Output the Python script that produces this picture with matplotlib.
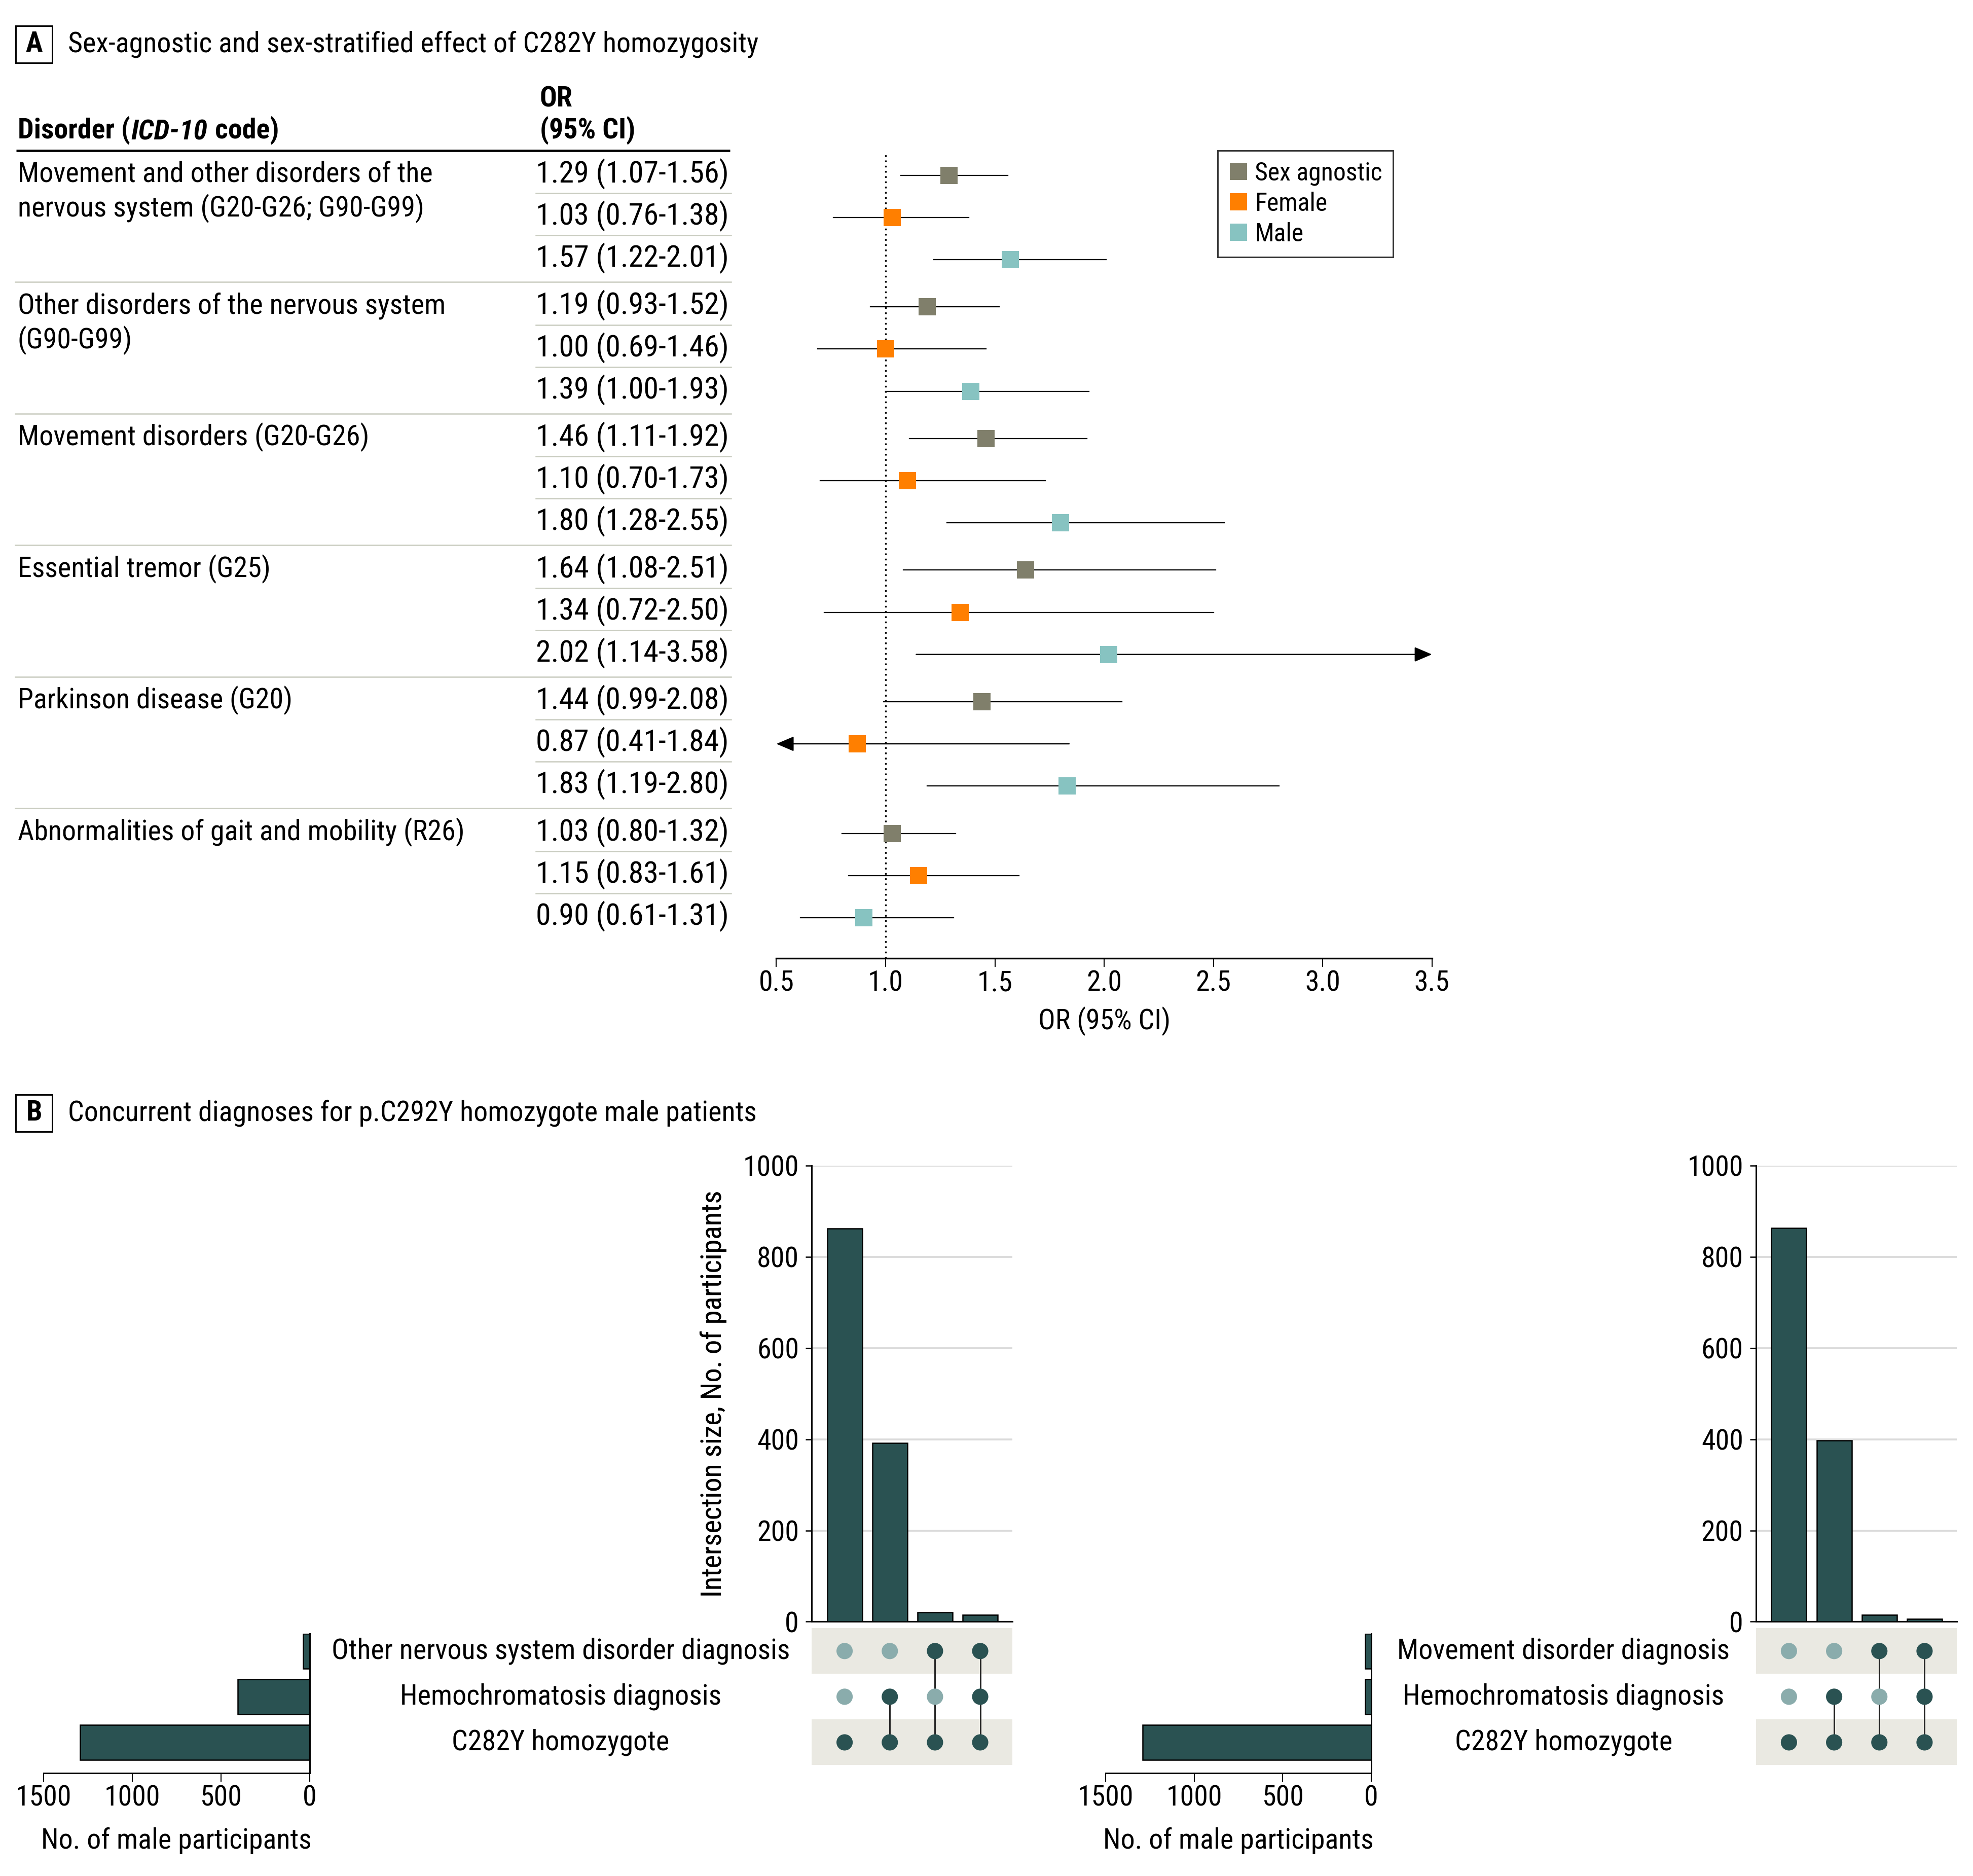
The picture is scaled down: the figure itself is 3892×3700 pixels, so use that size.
import numpy as np
import matplotlib
matplotlib.use('Agg')
import matplotlib.pyplot as plt
from matplotlib import font_manager
from matplotlib.patches import Rectangle

# ---------------- data ----------------
disorders = ['Movement and other disorders of the\nnervous system (G20-G26; G90-G99)',
             'Other disorders of the nervous system\n(G90-G99)',
             'Movement disorders (G20-G26)',
             'Essential tremor (G25)',
             'Parkinson disease (G20)',
             'Abnormalities of gait and mobility (R26)']
groups = ['Sex agnostic', 'Female', 'Male']

or_agn = [1.29, 1.19, 1.46, 1.64, 1.44, 1.03]
lo_agn = [1.07, 0.93, 1.11, 1.08, 0.99, 0.80]
hi_agn = [1.56, 1.52, 1.92, 2.51, 2.08, 1.32]
or_fem = [1.03, 1.00, 1.10, 1.34, 0.87, 1.15]
lo_fem = [0.76, 0.69, 0.70, 0.72, 0.41, 0.83]
hi_fem = [1.38, 1.46, 1.73, 2.50, 1.84, 1.61]
or_male = [1.57, 1.39, 1.80, 2.02, 1.83, 0.90]
lo_male = [1.22, 1.00, 1.28, 1.14, 1.19, 0.61]
hi_male = [2.01, 1.93, 2.55, 3.58, 2.80, 1.31]

sets_left = ['Other nervous system disorder diagnosis', 'Hemochromatosis diagnosis', 'C282Y homozygote']
setsize_left = [37, 406, 1292]
inter_left = [862, 392, 21, 15]
sets_right = ['Movement disorder diagnosis', 'Hemochromatosis diagnosis', 'C282Y homozygote']
setsize_right = [33, 33, 1290]
inter_right = [863, 397, 15, 6]
# rows = sets (top to bottom), columns = intersections
members = [[0, 0, 1, 1],
           [0, 1, 0, 1],
           [1, 1, 1, 1]]

# ---------------- style ----------------
names = {f.name for f in font_manager.fontManager.ttflist}
fam = 'DejaVu Sans'
for cand in ['Liberation Sans Narrow', 'Roboto Condensed', 'Roboto', 'Liberation Sans']:
    if cand in names:
        fam = cand
        break
plt.rcParams['font.family'] = [fam, 'DejaVu Sans']

c_agn, c_fem, c_male = '#807f6b', '#ff7f00', '#87c3c1'
dark, light, band = '#2a5252', '#8aacac', '#eae9e2'
sep_col = '#c9ccc0'

# layout grid in reference pixels (1568 x 1491 view)
W, H = 1568, 1491


def fx(x):
    return x / W


def fy(y):
    return 1 - y / H


def box(x0, y0, x1, y1):
    return [fx(x0), fy(y1), fx(x1) - fx(x0), fy(y0) - fy(y1)]


fig = plt.figure(figsize=(3892 / 300, 3700 / 300), dpi=300)
renderer = fig.canvas.get_renderer()


def fit_size(text, target_px):
    # font size that makes `text` about target_px wide in the output
    t = fig.text(0, 0, text, fontsize=10)
    w = t.get_window_extent(renderer=renderer).width
    t.remove()
    return 10 * target_px / w


FS = fit_size('Sex-agnostic and sex-stratified effect of C282Y homozygosity', 1362)
FS_OR = fit_size('1.29 (1.07-1.56)', 380)
FS_LEG = fit_size('Sex agnostic', 252)
plt.rcParams['font.size'] = FS

bg = fig.add_axes([0, 0, 1, 1])
bg.set_xlim(0, W)
bg.set_ylim(H, 0)
bg.axis('off')


def panel_tag(letter, y, title):
    bg.add_patch(Rectangle((12.3, y - 14.7), 29.3, 29.5, fill=False, lw=0.7, ec='black'))
    bg.text(27, y, letter, ha='center', va='center', fontweight='bold')
    bg.text(54, y, title, ha='left', va='center')


# ---------------- panel A ----------------
panel_tag('A', 35.2, 'Sex-agnostic and sex-stratified effect of C282Y homozygosity')

bg.text(429, 78.6, 'OR', fontweight='bold', va='center')
bg.text(429, 104, '(95% CI)', fontweight='bold', va='center')
t1 = bg.text(14, 104, 'Disorder (', fontweight='bold', va='center')
t2 = bg.annotate('ICD-10', xy=(1, 0), xycoords=t1, va='bottom', fontweight='bold',
                 fontstyle='italic', xytext=(0.5, 0), textcoords='offset points')
bg.annotate('code)', xy=(1, 0), xycoords=t2, va='bottom', fontweight='bold',
            xytext=(FS * 0.25, 0), textcoords='offset points')
bg.plot([13, 580], [119.5, 119.5], color='black', lw=1.1, solid_capstyle='butt')

ROW0, STEP, PERIOD = 138.3, 33.5, 104.6


def row_y(g, k):
    return ROW0 + g * PERIOD + k * STEP


series = [(groups[0], or_agn, lo_agn, hi_agn, c_agn),
          (groups[1], or_fem, lo_fem, hi_fem, c_fem),
          (groups[2], or_male, lo_male, hi_male, c_male)]

for g, name in enumerate(disorders):
    for i, line in enumerate(name.split('\n')):
        bg.text(14, row_y(g, 0) + i * 27.6, line, va='center')
    for k in range(3):
        est, lo, hi = series[k][1][g], series[k][2][g], series[k][3][g]
        bg.text(426, row_y(g, k), f'{est:.2f} ({lo:.2f}-{hi:.2f})', va='center', fontsize=FS_OR)
        if k < 2:
            ys = row_y(g, k) + STEP / 2 - 1.5
            bg.plot([426, 581], [ys, ys], color=sep_col, lw=0.6)
    if g < len(disorders) - 1:
        ys = row_y(g, 2) + (PERIOD - 2 * STEP) / 2
        bg.plot([12, 581], [ys, ys], color=sep_col, lw=0.6)

fa = fig.add_axes(box(617, 119.5, 1138, 761.5))
fa.set_xlim(0.5, 3.5)
fa.set_ylim(761.5, 119.5)
for s in ['left', 'top', 'right']:
    fa.spines[s].set_visible(False)
fa.spines['bottom'].set_linewidth(0.8)
fa.set_yticks([])
ticks = np.arange(0.5, 3.51, 0.5)
fa.set_xticks(ticks)
fa.set_xticklabels([f'{t:.1f}' for t in ticks])
fa.tick_params(axis='x', length=4, width=0.5, pad=1.5)
fa.set_xlabel('OR (95% CI)')
fa.xaxis.label.set_va('center')
fa.xaxis.set_label_coords(0.5, -(811.8 - 761.5) / (761.5 - 119.5))
fa.axvline(1.0, ymin=0, ymax=(761.5 - 122.5) / (761.5 - 119.5), color='black',
           lw=0.8, ls=(0, (1, 2.1)), zorder=1)

arrow = dict(arrowstyle='-|>,head_length=0.4,head_width=0.17', color='black', lw=0.55,
             shrinkA=0, shrinkB=0, mutation_scale=18)
for k, (name, est, lo, hi, col) in enumerate(series):
    ys = [row_y(g, k) + 1 for g in range(len(disorders))]
    for y, l, h in zip(ys, lo, hi):
        if l < 0.5:
            fa.annotate('', xy=(0.5, y), xytext=(h, y), arrowprops=arrow, annotation_clip=False)
        elif h > 3.5:
            fa.annotate('', xy=(3.5, y), xytext=(l, y), arrowprops=arrow, annotation_clip=False)
        else:
            fa.plot([l, h], [y, y], color='black', lw=0.55, zorder=2)
    fa.plot(est, ys, 's', ls='none', ms=8, mew=0, color=col, zorder=3, label=name)

handles, labels = fa.get_legend_handles_labels()
leg = fig.legend(handles, labels, loc='upper left', bbox_to_anchor=(fx(967.8), fy(119.5)),
                 frameon=True, fancybox=False, edgecolor='black', fontsize=FS_LEG,
                 handlelength=0.8, handletextpad=0.25, labelspacing=0.24, borderpad=0.42,
                 borderaxespad=0)
leg.get_frame().set_linewidth(0.7)

# ---------------- panel B ----------------
panel_tag('B', 884.7, 'Concurrent diagnoses for p.C292Y homozygote male patients')

ROWB, STEPB = 1312.2, 36.3


def upset(x_set, x_mat, set_names, set_sizes, inter_sizes):
    cols = np.arange(len(inter_sizes))
    rows = np.arange(len(set_names))

    # intersection sizes
    ia = fig.add_axes(box(x_mat[0], 926.3, x_mat[1], 1288.9))
    ia.bar(cols, inter_sizes, width=0.775, color=dark, edgecolor='black', lw=0.6, zorder=3)
    ia.set_xlim(-0.73, 3.71)
    ia.set_ylim(0, 1000)
    ia.set_yticks(np.arange(0, 1001, 200))
    ia.set_xticks([])
    ia.grid(axis='y', color='#dadada', lw=0.9)
    ia.set_axisbelow(True)
    for s in ['top', 'right']:
        ia.spines[s].set_visible(False)
    for s in ['left', 'bottom']:
        ia.spines[s].set_linewidth(0.7)
    ia.tick_params(axis='y', length=3, width=0.6, pad=3)
    ia.set_ylabel('Intersection size, No. of participants')
    ia.yaxis.label.set_va('center')
    ia.yaxis.set_label_coords((567 - x_mat[0]) / (x_mat[1] - x_mat[0]), 0.5)

    # membership matrix
    ma = fig.add_axes(box(x_mat[0], ROWB - STEPB / 2, x_mat[1], ROWB + 2.5 * STEPB))
    ma.set_xlim(-0.73, 3.71)
    ma.set_ylim(2.5, -0.5)
    ma.axis('off')
    for r in rows[::2]:
        ma.axhspan(r - 0.5, r + 0.5, color=band, lw=0, zorder=0)
    m = np.array(members)
    for c in cols:
        on = rows[m[:, c] == 1]
        if len(on) > 1:
            ma.plot([c, c], [on.min(), on.max()], color='#222222', lw=0.7, zorder=1)
        ma.scatter(np.full(len(rows), c), rows, s=7.7 ** 2, lw=0, zorder=2,
                   c=[dark if v else light for v in m[:, c]])

    # set sizes
    sa = fig.add_axes(box(x_set[0], ROWB - 0.38 * STEPB, x_set[1], ROWB + 2.672 * STEPB))
    sa.barh(rows, set_sizes, height=0.76, color=dark, edgecolor='black', lw=0.6)
    sa.set_xlim(1500, 0)
    sa.set_ylim(2.672, -0.38)
    sa.set_yticks([])
    sa.set_xticks([1500, 1000, 500, 0])
    for s in ['top', 'left']:
        sa.spines[s].set_visible(False)
    for s in ['right', 'bottom']:
        sa.spines[s].set_linewidth(0.7)
    sa.tick_params(axis='x', length=4, width=0.5, pad=1.5)
    sa.set_xlabel('No. of male participants')
    sa.xaxis.label.set_va('center')
    sa.xaxis.set_label_coords(0.5, -(1463 - 1409.3) / (2.672 + 0.38) / STEPB)

    xc = (x_set[1] + x_mat[0]) / 2
    for r, name in zip(rows, set_names):
        bg.text(xc, ROWB + r * STEPB, name, ha='center', va='center')


upset((34.5, 246), (645, 804.5), sets_left, setsize_left, inter_left)
upset((878.7, 1089.7), (1395.5, 1555), sets_right, setsize_right, inter_right)

fig.savefig('out.png', dpi=300)
